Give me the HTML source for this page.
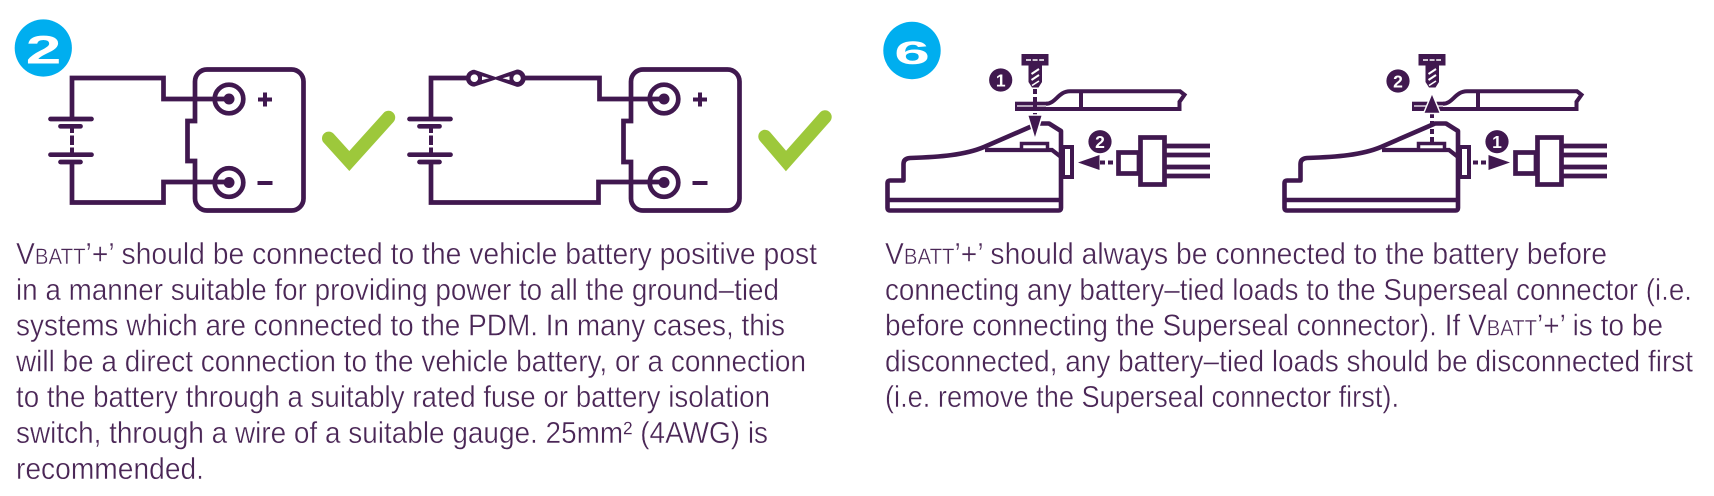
<!DOCTYPE html>
<html><head><meta charset="utf-8"><style>
html,body{margin:0;padding:0;background:#fff;}
svg{display:block;}
.t{font-family:"Liberation Sans",sans-serif;font-size:30.5px;fill:#4a2656;stroke:#fff;stroke-width:0.4px;}
.sc{font-size:22px;}
</style></head><body>
<svg width="1714" height="496" viewBox="0 0 1714 496" xmlns="http://www.w3.org/2000/svg">
<rect width="1714" height="496" fill="#fff"/>

<!-- ===== Badge 2 ===== -->
<circle cx="43.3" cy="48" r="28.6" fill="#00aeef"/>
<text transform="translate(43.5,63.3) scale(1.6,1)" text-anchor="middle" font-family="Liberation Sans,sans-serif" font-weight="bold" font-size="40" fill="#fff">2</text>

<!-- ===== Circuit 1 ===== -->
<g fill="none" stroke="#40184f" stroke-width="4.7">
  <path d="M72,119 L72,78 L163.5,78 L163.5,99 L229,99"/>
  <path d="M72,162 L72,202.5 L163.5,202.5 L163.5,182 L229,182"/>
  <g stroke-linecap="round">
    <line x1="50.5" y1="119" x2="91.5" y2="119"/>
    <line x1="60.5" y1="126.3" x2="80.5" y2="126.3"/>
    <line x1="50.5" y1="154.7" x2="91.5" y2="154.7"/>
    <line x1="60.5" y1="162" x2="80.5" y2="162"/>
  </g>
  <line x1="72" y1="128" x2="72" y2="133" stroke-width="4"/>
  <line x1="72" y1="135.5" x2="72" y2="145" stroke-width="4"/>
  <line x1="72" y1="147.5" x2="72" y2="152.5" stroke-width="4"/>
  <path d="M207,69.5 L291.5,69.5 A12,12 0 0 1 303.5,81.5 L303.5,198.5 A12,12 0 0 1 291.5,210.5 L207,210.5 A12,12 0 0 1 195,198.5 L195,161 L187.5,161 L187.5,121 L195,121 L195,81.5 A12,12 0 0 1 207,69.5 Z"/>
  <circle cx="229" cy="99" r="14.3"/>
  <circle cx="229" cy="182.5" r="14.3"/>
  <line x1="258" y1="99.5" x2="272" y2="99.5" stroke-width="4"/>
  <line x1="265" y1="92.5" x2="265" y2="106.5" stroke-width="4"/>
  <line x1="257.5" y1="183" x2="272.5" y2="183" stroke-width="4"/>
</g>
<circle cx="229" cy="99" r="5.5" fill="#40184f"/>
<circle cx="229" cy="182.5" r="5.5" fill="#40184f"/>
<polyline points="328.7,138.3 349.3,161 388.5,117.5" fill="none" stroke="#9dc83b" stroke-width="13.4" stroke-linecap="round" stroke-linejoin="miter"/>

<!-- ===== Circuit 2 ===== -->
<g fill="none" stroke="#40184f" stroke-width="4.7">
  <path d="M431,119 L431,78 L467,78"/>
  <path d="M525,78 L599.5,78 L599.5,99 L664,99"/>
  <path d="M431,162 L431,202.5 L598.5,202.5 L598.5,182 L664,182"/>
  <g stroke-linecap="round">
    <line x1="409.5" y1="119" x2="450.5" y2="119"/>
    <line x1="419.5" y1="126.3" x2="439.5" y2="126.3"/>
    <line x1="409.5" y1="154.7" x2="450.5" y2="154.7"/>
    <line x1="419.5" y1="162" x2="439.5" y2="162"/>
  </g>
  <line x1="431" y1="128" x2="431" y2="133" stroke-width="4"/>
  <line x1="431" y1="135.5" x2="431" y2="145" stroke-width="4"/>
  <line x1="431" y1="147.5" x2="431" y2="152.5" stroke-width="4"/>
  <path d="M643,69.5 L727.5,69.5 A12,12 0 0 1 739.5,81.5 L739.5,198.5 A12,12 0 0 1 727.5,210.5 L643,210.5 A12,12 0 0 1 631,198.5 L631,162 L623.5,162 L623.5,121 L631,121 L631,81.5 A12,12 0 0 1 643,69.5 Z"/>
  <circle cx="664" cy="99" r="14.3"/>
  <circle cx="664" cy="182.5" r="14.3"/>
  <line x1="693" y1="99.5" x2="707" y2="99.5" stroke-width="4"/>
  <line x1="700" y1="92.5" x2="700" y2="106.5" stroke-width="4"/>
  <line x1="692.5" y1="183" x2="707.5" y2="183" stroke-width="4"/>
</g>
<circle cx="664" cy="99" r="5.5" fill="#40184f"/>
<circle cx="664" cy="182.5" r="5.5" fill="#40184f"/>
<!-- fuse -->
<path d="M474.3,69.8 L495.6,77 L517,69.5 A8.7,8.7 0 0 1 517,86.9 L495.6,79.5 L474.3,86.6 A8.4,8.4 0 0 1 474.3,69.8 Z" fill="#40184f"/>
<circle cx="474.3" cy="78.2" r="3.8" fill="#fff"/>
<circle cx="517" cy="78.2" r="3.8" fill="#fff"/>
<polygon points="482,76.3 489,78.2 482,80.1" fill="#fff"/>
<polygon points="509.5,76.3 502.5,78.2 509.5,80.1" fill="#fff"/>
<polyline points="765,136.5 786,161 825,117" fill="none" stroke="#9dc83b" stroke-width="13.4" stroke-linecap="round" stroke-linejoin="miter"/>

<!-- ===== Badge 6 ===== -->
<circle cx="912" cy="50.5" r="28.7" fill="#00aeef"/>
<text transform="translate(912,64) scale(2.0,1)" text-anchor="middle" font-family="Liberation Sans,sans-serif" font-weight="bold" font-size="32" fill="#fff">6</text>

<!-- ===== Side view figure (shared) ===== -->
<defs>
  <g id="side">
    <!-- lug -->
    <rect x="1015" y="101.7" width="36" height="9.3" fill="#40184f"/>
    <line x1="1017" y1="106" x2="1046" y2="106" stroke="#fff" stroke-width="1.2"/>
    <path d="M1046,103.7 C1056,103.7 1058,91.3 1070,91.3 L1180,91.3 L1184.5,94.8 L1179.5,101.8 L1179.5,109 L1046,109" fill="#fff" stroke="#40184f" stroke-width="4" stroke-linejoin="miter"/>
    <line x1="1081" y1="91" x2="1081" y2="109.5" stroke="#40184f" stroke-width="4"/>
    <!-- body -->
    <path d="M903.5,180.5 L890,180.5 Q887.5,180.5 887.5,183 L887.5,208 Q887.5,210.5 890,210.5 L1058.5,210.5 Q1061,210.5 1061,208 L1061,131 L1049,123.5 L1038,123.5 L1030,127 L984,147 C965,155 940,157 910,158 Q903.5,158.5 903.5,164 Z" fill="#fff" stroke="#40184f" stroke-width="4.6" stroke-linejoin="round"/>
    <line x1="887.5" y1="200" x2="1061" y2="200" stroke="#40184f" stroke-width="4.6"/>
    <path d="M985,150 L1052,150 L1061,157" fill="none" stroke="#40184f" stroke-width="4.2"/>
    <rect x="1021.5" y="143.5" width="26" height="6.5" fill="#fff" stroke="#40184f" stroke-width="3.5"/>
    <rect x="1063" y="147" width="9" height="30" fill="#fff" stroke="#40184f" stroke-width="4"/>
    <!-- plug -->
    <rect x="1118.5" y="152.5" width="20.5" height="21" fill="#fff" stroke="#40184f" stroke-width="4.7"/>
    <rect x="1140.5" y="137.5" width="24" height="47" fill="#fff" stroke="#40184f" stroke-width="4.7"/>
    <g stroke="#40184f" stroke-width="4.7">
      <line x1="1166" y1="146" x2="1210" y2="146"/>
      <line x1="1166" y1="155" x2="1210" y2="155"/>
      <line x1="1166" y1="167" x2="1210" y2="167"/>
      <line x1="1166" y1="176" x2="1210" y2="176"/>
    </g>
    <!-- screw -->
    <rect x="1021.5" y="54" width="27" height="11.5" fill="#40184f"/>
    <line x1="1026" y1="60" x2="1044" y2="60" stroke="#fff" stroke-width="1.6" stroke-dasharray="5 1.6"/>
    <polygon points="1028.5,65 1042,65 1042,82 1038.5,87.5 1032,87.5 1028.5,82" fill="#40184f"/>
    <line x1="1031.5" y1="74" x2="1039" y2="69" stroke="#fff" stroke-width="2"/>
    <line x1="1031.5" y1="80" x2="1039" y2="75" stroke="#fff" stroke-width="2"/>
    <line x1="1032" y1="85.5" x2="1039" y2="81" stroke="#fff" stroke-width="1.6"/>
  </g>
</defs>

<use href="#side"/>
<use href="#side" transform="translate(397,0)"/>

<!-- fig 1 arrows -->
<line x1="1035" y1="89" x2="1035" y2="116" stroke="#40184f" stroke-width="4" stroke-dasharray="5 3"/>
<polygon points="1027.5,115 1042.5,115 1035,139.5" fill="#40184f" stroke="#fff" stroke-width="1.5" stroke-linejoin="round"/>
<line x1="1100" y1="162.5" x2="1116" y2="162.5" stroke="#40184f" stroke-width="4" stroke-dasharray="5 3"/>
<polygon points="1099.5,155 1099.5,170 1078,162.5" fill="#40184f"/>
<circle cx="1000.7" cy="80" r="11.6" fill="#40184f"/>
<text x="1000.7" y="86.3" text-anchor="middle" font-family="Liberation Sans,sans-serif" font-weight="bold" font-size="17.5" fill="#fff">1</text>
<circle cx="1100" cy="141.7" r="11.6" fill="#40184f"/>
<text x="1100" y="148" text-anchor="middle" font-family="Liberation Sans,sans-serif" font-weight="bold" font-size="17.5" fill="#fff">2</text>

<!-- fig 2 arrows -->
<line x1="1432" y1="142" x2="1432" y2="114" stroke="#40184f" stroke-width="4" stroke-dasharray="5 3"/>
<polygon points="1423.5,113.5 1440.5,113.5 1432,93" fill="#40184f" stroke="#fff" stroke-width="1.5" stroke-linejoin="round"/>
<line x1="1473" y1="162.5" x2="1489" y2="162.5" stroke="#40184f" stroke-width="4" stroke-dasharray="5 3"/>
<polygon points="1488.5,155 1488.5,170 1510,162.5" fill="#40184f"/>
<circle cx="1398" cy="81" r="11.6" fill="#40184f"/>
<text x="1398" y="87.3" text-anchor="middle" font-family="Liberation Sans,sans-serif" font-weight="bold" font-size="17.5" fill="#fff">2</text>
<circle cx="1497" cy="141.7" r="11.6" fill="#40184f"/>
<text x="1497" y="148" text-anchor="middle" font-family="Liberation Sans,sans-serif" font-weight="bold" font-size="17.5" fill="#fff">1</text>

<!-- ===== Left text ===== -->
<text class="t" x="16" y="264" textLength="801" lengthAdjust="spacingAndGlyphs">V<tspan class="sc">BATT</tspan>’+’ should be connected to the vehicle battery positive post</text>
<text class="t" x="16" y="299.8" textLength="763" lengthAdjust="spacingAndGlyphs">in a manner suitable for providing power to all the ground–tied</text>
<text class="t" x="16" y="335.6" textLength="769" lengthAdjust="spacingAndGlyphs">systems which are connected to the PDM. In many cases, this</text>
<text class="t" x="16" y="371.4" textLength="790" lengthAdjust="spacingAndGlyphs">will be a direct connection to the vehicle battery, or a connection</text>
<text class="t" x="16" y="407.2" textLength="754" lengthAdjust="spacingAndGlyphs">to the battery through a suitably rated fuse or battery isolation</text>
<text class="t" x="16" y="443" textLength="752" lengthAdjust="spacingAndGlyphs">switch, through a wire of a suitable gauge. 25mm² (4AWG) is</text>
<text class="t" x="16" y="478.8" textLength="188" lengthAdjust="spacingAndGlyphs">recommended.</text>

<!-- ===== Right text ===== -->
<text class="t" x="885" y="264" textLength="722" lengthAdjust="spacingAndGlyphs">V<tspan class="sc">BATT</tspan>’+’ should always be connected to the battery before</text>
<text class="t" x="885" y="299.8" textLength="807" lengthAdjust="spacingAndGlyphs">connecting any battery–tied loads to the Superseal connector (i.e.</text>
<text class="t" x="885" y="335.6" textLength="778" lengthAdjust="spacingAndGlyphs">before connecting the Superseal connector). If V<tspan class="sc">BATT</tspan>’+’ is to be</text>
<text class="t" x="885" y="371.4" textLength="808" lengthAdjust="spacingAndGlyphs">disconnected, any battery–tied loads should be disconnected first</text>
<text class="t" x="885" y="407.2" textLength="514" lengthAdjust="spacingAndGlyphs">(i.e. remove the Superseal connector first).</text>
</svg>
</body></html>
